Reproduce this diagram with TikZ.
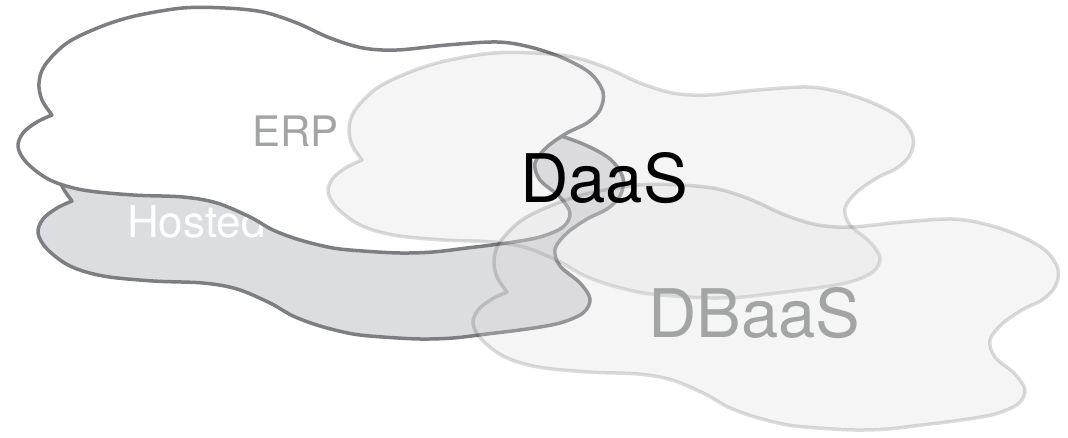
\documentclass[tikz,border=0pt]{standalone}
\usepackage{fontspec}
\setmainfont{TeX Gyre Heros}

\pgfdeclarelayer{background}
\pgfdeclarelayer{foreground}
\pgfsetlayers{background,main,foreground}

\definecolor{cloudedge}{HTML}{7C7E82}
\definecolor{hostedfill}{HTML}{DCDDE0}
\definecolor{labelgray}{HTML}{A3A5A5}

\newcommand{\cloudpath}{plot[smooth,tension=0.55] coordinates {(52,115) (42,100) (39,83) (45,65) (67,43) (100,27) (135,16) (183,8) (225,8) (263,12) (297,23) (330,38) (363,48) (397,50) (447,45) (497,42) (530,47) (563,58) (590,73) (603,92) (600,110) (587,123) (567,133) (547,147) (535,163) (540,180) (560,197) (570,213) (563,227) (540,237) (507,243) (467,248) (433,252) (400,253) (363,251) (333,248) (300,240) (273,230) (250,217) (217,203) (183,197) (133,195) (83,190) (50,180) (27,163) (18,147) (23,133) (37,122) (52,115)} -- cycle}

\begin{document}
\begin{tikzpicture}[x=1pt,y=-1pt]
\useasboundingbox (0,0) rectangle (1068,438);

\begin{pgfonlayer}{background}
\draw[line width=3.5pt,line join=round,draw=cloudedge,fill=hostedfill,shift={(20,86)}] \cloudpath;
\node[anchor=base west,inner sep=0pt,text=white,font=\fontsize{44}{50}\selectfont] at (127,238) (Hosted) {Hosted};
\end{pgfonlayer}

\draw[line width=3.5pt,line join=round,draw=cloudedge,fill=white] \cloudpath;
\node[anchor=base west,inner sep=0pt,text=labelgray,font=\fontsize{42}{48}\selectfont] at (252,147) (ERP) {ERP};

\begin{pgfonlayer}{foreground}
\draw[line width=3.5pt,line join=round,draw=black,draw opacity=0.14,fill=black!15,fill opacity=0.26,shift={(310,45)}] \cloudpath;
\draw[line width=3.5pt,line join=round,draw=black,draw opacity=0.14,fill=black!15,fill opacity=0.26,shift={(455,177)}] \cloudpath;
\node[anchor=base west,inner sep=0pt,text=black,font=\fontsize{67}{76}\selectfont] at (520,203) (DaaS) {DaaS};
\node[anchor=base west,inner sep=0pt,text=labelgray,font=\fontsize{67}{76}\selectfont] at (648,337) (DBaaS) {DBaaS};
\end{pgfonlayer}

\end{tikzpicture}
\end{document}
